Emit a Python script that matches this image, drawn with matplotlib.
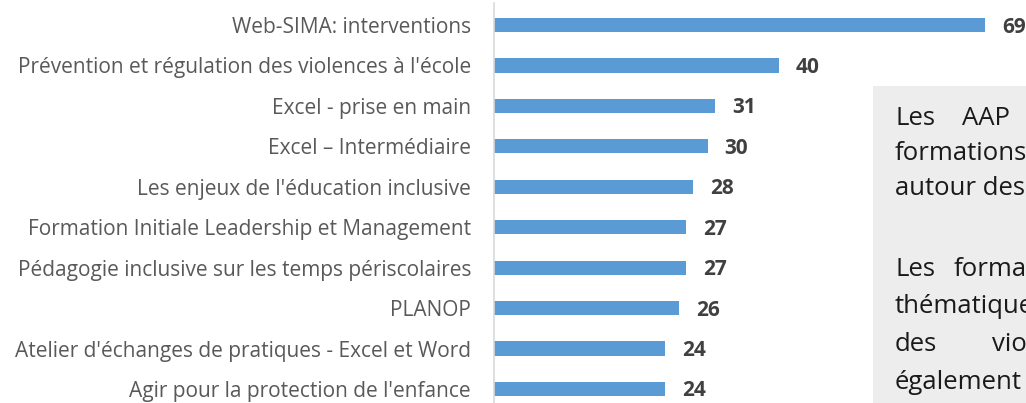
import matplotlib.pyplot as plt
from matplotlib.patches import Rectangle

plt.rcParams['font.family'] = ['Open Sans', 'DejaVu Sans']

labels = [
    "Web-SIMA: interventions",
    "Prévention et régulation des violences à l'école",
    "Excel - prise en main",
    "Excel – Intermédiaire",
    "Les enjeux de l'éducation inclusive",
    "Formation Initiale Leadership et Management",
    "Pédagogie inclusive sur les temps périscolaires",
    "PLANOP",
    "Atelier d'échanges de pratiques - Excel et Word",
    "Agir pour la protection de l'enfance",
]
values = [69, 40, 31, 30, 28, 27, 27, 26, 24, 24]

# commentary box, justified lines (cut off by the right edge in the original)
box_lines = [
    ["Les", "AAP"],
    ["formations"],
    ["autour des"],
    ["Les", "formations"],
    ["thématiques"],
    ["des", "violences"],
    ["également"],
]
box_word_x = [
    [895, 962],
    [895],
    [895],
    [895, 954],
    [895],
    [895, 992],
    [895],
]
box_baseline = [125, 160, 195, 276, 313, 351, 389]

W, H = 1026, 403
fig = plt.figure(figsize=(W / 100, H / 100), dpi=100)
ax = fig.add_axes([494 / W, 0, 1 - 494 / W, 1])

pos = list(range(len(values)))
ax.barh(pos, values, height=0.35, color="#5B9BD5")
ax.set_xlim(0, 74.7)
ax.set_ylim(9.347, -0.618)

for y, v in zip(pos, values):
    ax.text(v + 2.4, y + 0.05, str(v), ha="left", va="center",
            fontsize=15, fontweight="bold", color="#404040")

ax.set_yticks(pos)
ax.set_yticklabels(labels, fontsize=15, color="#595959")
ax.tick_params(axis="y", length=0, pad=16.5)
ax.set_xticks([])
for s in ["top", "right", "bottom"]:
    ax.spines[s].set_visible(False)
ax.spines["left"].set_color("#D9D9D9")
ax.spines["left"].set_linewidth(1.2)
ax.spines["left"].set_bounds(-0.55, 9.347)

# grey commentary box
fig.patches.append(Rectangle((873 / W, 0), 1, 1 - 86 / H, transform=fig.transFigure,
                             facecolor="#EDEDED", edgecolor="none", zorder=5))
for words, xs, y in zip(box_lines, box_word_x, box_baseline):
    for w, x in zip(words, xs):
        fig.text(x / W, 1 - y / H, w, ha="left", va="baseline", fontsize=18.5,
                 color="#1A1A1A", zorder=6)

fig.savefig("out.png", dpi=100)
